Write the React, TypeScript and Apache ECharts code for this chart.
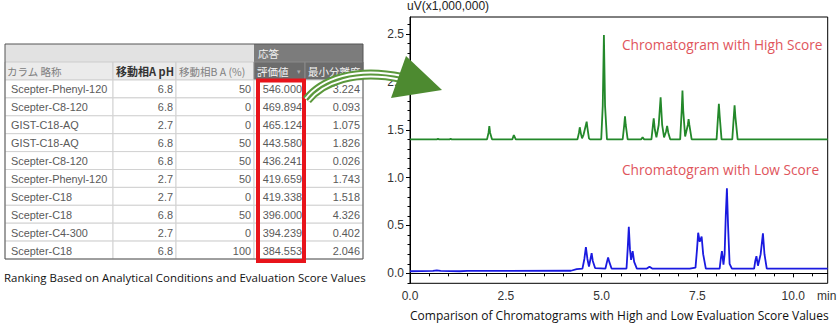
import React, { useEffect, useRef } from "react";
import * as echarts from "echarts";

// ---------- table data ----------
const groupHeader = "応答";
const columnHeaders = ["カラム 略称", "移動相A pH", "移動相B A (%)", "評価値", "最小分離度"];
const columnNames = [
  "Scepter-Phenyl-120", "Scepter-C8-120", "GIST-C18-AQ", "GIST-C18-AQ", "Scepter-C8-120",
  "Scepter-Phenyl-120", "Scepter-C18", "Scepter-C18", "Scepter-C4-300", "Scepter-C18",
];
const phValues = ["6.8", "6.8", "2.7", "6.8", "6.8", "2.7", "2.7", "6.8", "2.7", "6.8"];
const bPercent = ["50", "0", "0", "50", "50", "50", "0", "50", "0", "100"];
const scores = ["546.000", "469.894", "465.124", "443.580", "436.241", "419.659", "419.338", "396.000", "394.239", "384.553"];
const resolutions = ["3.224", "0.093", "1.075", "1.826", "0.026", "1.743", "1.518", "4.326", "0.402", "2.046"];

// ---------- chromatogram data [min, uV x1,000,000] ----------
const highScoreTrace: [number, number][] = [
  [0, 1.4], [0.7, 1.4], [0.73, 1.406], [0.76, 1.4], [1.03, 1.4], [1.06, 1.406], [1.09, 1.4],
  [2.01, 1.4], [2.05, 1.47], [2.07, 1.539], [2.09, 1.47], [2.14, 1.4],
  [2.67, 1.4], [2.71, 1.445], [2.76, 1.4],
  [4.37, 1.4], [4.41, 1.47], [4.43, 1.526], [4.46, 1.46], [4.49, 1.41], [4.53, 1.45], [4.59, 1.55], [4.61, 1.584], [4.63, 1.52], [4.67, 1.41], [4.7, 1.4],
  [4.99, 1.4], [5.03, 1.75], [5.06, 2.49], [5.09, 1.75], [5.14, 1.4],
  [5.55, 1.4], [5.59, 1.55], [5.61, 1.64], [5.63, 1.55], [5.68, 1.4],
  [6.03, 1.4], [6.07, 1.42], [6.11, 1.4],
  [6.3, 1.4], [6.34, 1.55], [6.36, 1.62], [6.39, 1.5], [6.43, 1.42], [6.49, 1.55], [6.54, 1.84], [6.58, 1.55], [6.63, 1.42], [6.68, 1.48], [6.71, 1.54], [6.74, 1.47], [6.79, 1.4],
  [7.05, 1.4], [7.09, 1.7], [7.11, 1.91], [7.13, 1.7], [7.18, 1.43], [7.25, 1.55], [7.27, 1.61], [7.29, 1.55], [7.35, 1.4],
  [8.0, 1.4], [8.04, 1.65], [8.06, 1.77], [8.08, 1.65], [8.13, 1.4],
  [8.41, 1.4], [8.45, 1.64], [8.47, 1.755], [8.49, 1.64], [8.55, 1.4],
  [10.9, 1.4],
];
const lowScoreTrace: [number, number][] = [
  [0, 0.022], [0.6, 0.025], [0.7, 0.032], [0.8, 0.026], [1.3, 0.022], [1.5, 0.025], [4.2, 0.027], [4.35, 0.045],
  [4.5, 0.05], [4.55, 0.15], [4.59, 0.275], [4.63, 0.15], [4.67, 0.07], [4.71, 0.15], [4.74, 0.21], [4.77, 0.13], [4.83, 0.055],
  [5.1, 0.05], [5.14, 0.12], [5.17, 0.167], [5.2, 0.12], [5.26, 0.05],
  [5.65, 0.05], [5.68, 0.25], [5.71, 0.487], [5.74, 0.25], [5.77, 0.14], [5.81, 0.233], [5.85, 0.12], [5.92, 0.05],
  [6.18, 0.05], [6.25, 0.07], [6.32, 0.05],
  [7.3, 0.05], [7.45, 0.06], [7.49, 0.25], [7.52, 0.424], [7.56, 0.33], [7.61, 0.385], [7.65, 0.2], [7.72, 0.05],
  [8.08, 0.05], [8.11, 0.15], [8.14, 0.233], [8.18, 0.09], [8.21, 0.2], [8.24, 0.6], [8.27, 0.888], [8.3, 0.5], [8.34, 0.1], [8.4, 0.05],
  [8.98, 0.05], [9.01, 0.13], [9.04, 0.18], [9.08, 0.08], [9.15, 0.2], [9.21, 0.418], [9.25, 0.2], [9.31, 0.05],
  [10.9, 0.05],
];

const xTickValues = [0, 2.5, 5, 7.5, 10];
const yTickValues = [0, 0.5, 1, 1.5, 2, 2.5];

const yAxisName = "uV(x1,000,000)";
const xAxisUnit = "min";
const highLabel = "Chromatogram with High Score";
const lowLabel = "Chromatogram with Low Score";
const tableCaption = "Ranking Based on Analytical Conditions and Evaluation Score Values";
const chartCaption = "Comparison of Chromatograms with High and Low Evaluation Score Values";

function minorTicks(from: number, to: number, step: number, skip: number) {
  const out: number[] = [];
  for (let v = from; v <= to + 1e-9; v += step) {
    const r = Math.round(v * 100) / 100;
    if (Math.abs(r / skip - Math.round(r / skip)) > 1e-6) out.push(r);
  }
  return out;
}

function buildTable() {
  const els: any[] = [];
  const colX = [5, 113, 176, 254, 305, 363];
  const top = 44;
  const h1 = 18;
  const h2 = 18;
  const rowH = 17.9;
  const dataTop = top + h1 + h2;
  const font = "Liberation Sans";
  const cjk = "Noto Sans CJK JP";
  // header row 1
  els.push({ type: "rect", shape: { x: colX[0], y: top, width: colX[3] - colX[0], height: h1 }, style: { fill: "#e2e2e2" } });
  els.push({ type: "rect", shape: { x: colX[3], y: top, width: colX[5] - colX[3], height: h1 }, style: { fill: "#7c7c7c" } });
  els.push({ type: "text", x: colX[3] + 4, y: top + h1 / 2, style: { text: groupHeader, fill: "#f0f0f0", fontSize: 10.5, fontFamily: cjk, verticalAlign: "middle" } });
  // header row 2
  for (let c = 0; c < 5; c++) {
    const dark = c >= 3;
    els.push({
      type: "rect",
      shape: { x: colX[c], y: top + h1, width: colX[c + 1] - colX[c], height: h2 },
      style: { fill: dark ? "#6c6c6c" : "#ebebeb", stroke: dark ? "#8a8a8a" : "#cdcdcd", lineWidth: 1 },
    });
    els.push({
      type: "text",
      x: colX[c] + (c === 0 ? 2 : 3),
      y: top + h1 + h2 / 2,
      style: {
        text: columnHeaders[c],
        fill: dark ? "#f4f4f4" : c === 1 ? "#333" : "#808080",
        fontWeight: c === 1 ? "bold" : "normal",
        fontSize: c === 1 ? 11 : 10.5,
        fontFamily: cjk,
        verticalAlign: "middle",
      },
    });
  }
  els.push({ type: "text", x: 297, y: top + h1 + h2 / 2, style: { text: "▾", fill: "#aaa", fontSize: 7, verticalAlign: "middle" } });
  // data rows
  const cols = [columnNames, phValues, bPercent, scores, resolutions];
  for (let r = 0; r < columnNames.length; r++) {
    const y = dataTop + r * rowH;
    for (let c = 0; c < 5; c++) {
      els.push({
        type: "rect",
        shape: { x: colX[c], y, width: colX[c + 1] - colX[c], height: rowH },
        style: { fill: "#fff", stroke: "#d2d2d2", lineWidth: 1 },
      });
      els.push({
        type: "text",
        x: c === 0 ? colX[0] + 6 : colX[c + 1] - 3,
        y: y + rowH / 2 + 0.5,
        style: {
          text: cols[c][r],
          fill: "#5a5a5a",
          fontSize: 10.9,
          fontFamily: font,
          align: c === 0 ? "left" : "right",
          verticalAlign: "middle",
        },
      });
    }
  }
  const bottom = dataTop + rowH * columnNames.length;
  // outer border
  els.push({
    type: "rect",
    shape: { x: colX[0], y: top, width: colX[5] - colX[0], height: bottom - top },
    style: { fill: "none", stroke: "#555", lineWidth: 1 },
  });
  // red highlight
  els.push({
    type: "rect",
    z: 50,
    shape: { x: 258, y: dataTop + 0.5, width: 46, height: bottom - dataTop + 1.5 },
    style: { fill: "none", stroke: "#e8141b", lineWidth: 4 },
  });
  // caption
  els.push({
    type: "text",
    x: 4,
    y: 277,
    style: { text: tableCaption, fill: "#111", fontSize: 11.45, fontFamily: "Open Sans", verticalAlign: "middle" },
  });
  return els;
}

function buildArrow() {
  const shape = { x1: 307, y1: 100, cpx1: 322, cpy1: 81, cpx2: 355, cpy2: 68, x2: 402, y2: 78 };
  return [
    { type: "bezierCurve", z: 100, shape, style: { stroke: "#5b983c", lineWidth: 10, fill: "none" } },
    { type: "bezierCurve", z: 101, shape, style: { stroke: "#ffffff", lineWidth: 6, fill: "none" } },
    { type: "bezierCurve", z: 102, shape, style: { stroke: "#5b983c", lineWidth: 2.2, fill: "none" } },
    {
      type: "polygon",
      z: 103,
      shape: { points: [[406, 56], [442, 90], [391, 98]] },
      style: { fill: "#4d8a30" },
    },
  ];
}

export default function App() {
  const ref = useRef<HTMLDivElement>(null);
  useEffect(() => {
    if (!ref.current) return;
    const chart = echarts.init(ref.current, undefined, { renderer: "svg" });
    const axisFont = "Liberation Sans";
    const option: any = {
      animation: false,
      grid: { left: 410, right: 10.3, top: 17, bottom: 45.7, show: true, borderColor: "#000", borderWidth: 1, backgroundColor: "transparent" },
      xAxis: [
        {
          type: "value", min: 0, max: 10.9,
          axisLine: { show: true, lineStyle: { color: "#000", width: 1 } },
          axisTick: { show: true, customValues: xTickValues, length: 4, lineStyle: { color: "#000" } },
          axisLabel: { customValues: xTickValues, formatter: (v: number) => v.toFixed(1), color: "#333", fontSize: 12, fontFamily: axisFont, margin: 7 },
          splitLine: { show: false },
        },
        {
          type: "value", min: 0, max: 10.9, position: "bottom",
          axisLine: { show: false },
          axisTick: { show: true, customValues: minorTicks(0.5, 10.5, 0.5, 2.5), length: 3, lineStyle: { color: "#000" } },
          axisLabel: { show: false },
          splitLine: { show: false },
        },
      ],
      yAxis: [
        {
          type: "value", min: -0.104, max: 2.678,
          axisLine: { show: true, lineStyle: { color: "#000", width: 1 } },
          axisTick: { show: true, customValues: yTickValues, length: 4, lineStyle: { color: "#000" } },
          axisLabel: { customValues: yTickValues, formatter: (v: number) => v.toFixed(1), color: "#333", fontSize: 12, fontFamily: axisFont, margin: 6 },
          splitLine: { show: false },
        },
        {
          type: "value", min: -0.104, max: 2.678, position: "left",
          axisLine: { show: false },
          axisTick: { show: true, customValues: minorTicks(-0.1, 2.6, 0.1, 0.5), length: 2.5, lineStyle: { color: "#000" } },
          axisLabel: { show: false },
          splitLine: { show: false },
        },
      ],
      series: [
        { type: "line", name: "High", data: highScoreTrace, showSymbol: false, symbol: "none", lineStyle: { color: "#23882a", width: 1.8 }, xAxisIndex: 0, yAxisIndex: 0 },
        { type: "line", name: "Low", data: lowScoreTrace, showSymbol: false, symbol: "none", lineStyle: { color: "#1a1ae0", width: 1.8 }, xAxisIndex: 0, yAxisIndex: 0 },
      ],
      graphic: {
        elements: [
          ...buildTable(),
          ...buildArrow(),
          { type: "text", x: 407, y: 6, style: { text: yAxisName, fill: "#222", fontSize: 12, fontFamily: axisFont, verticalAlign: "middle" } },
          { type: "text", x: 817, y: 296, style: { text: xAxisUnit, fill: "#333", fontSize: 12, fontFamily: axisFont, verticalAlign: "middle" } },
          { type: "text", x: 622, y: 44, style: { text: highLabel, fill: "#e0555c", fontSize: 13.7, fontFamily: "Open Sans", verticalAlign: "middle" } },
          { type: "text", x: 622, y: 169, style: { text: lowLabel, fill: "#e0555c", fontSize: 13.7, fontFamily: "Open Sans", verticalAlign: "middle" } },
          { type: "text", x: 410, y: 315, style: { text: chartCaption, fill: "#111", fontSize: 12, fontFamily: "Open Sans", verticalAlign: "middle" } },
        ],
      },
    };
    chart.setOption(option);
    return () => chart.dispose();
  }, []);
  return <div ref={ref} style={{ position: "fixed", left: 0, top: 0, width: 838, height: 329, background: "#fff" }} />;
}
